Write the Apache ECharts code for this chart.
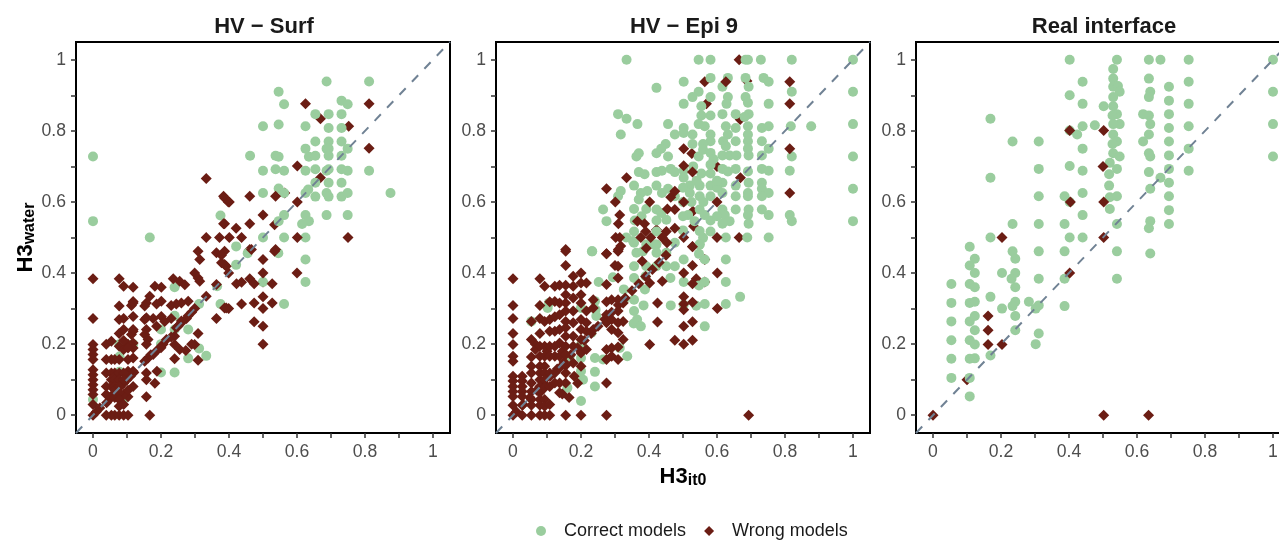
<!DOCTYPE html>
<html>
  <head>
    <title></title>
    <meta charset="UTF-8" />
    <script src="https://cdn.jsdelivr.net/npm/echarts@6/dist/echarts.min.js"></script>
    <style>
      html, body { margin: 0; padding: 0; background: #fff; overflow: hidden; }
    </style>
  </head>
  <body>
    <div id="main"></div>
    <script>
      const panelTitles = ['HV \u2212 Surf', 'HV \u2212 Epi 9', 'Real interface'];
      const labelTicks = [0, 0.2, 0.4, 0.6, 0.8, 1];
      const allTicks = [0, 0.1, 0.2, 0.3, 0.4, 0.5, 0.6, 0.7, 0.8, 0.9, 1];
      const diagonal = [[-0.05, -0.05], [1.05, 1.05]];

      // [x, y]
      const surfCorrect = [
        [.687,.939],[.812,.939],[.546,.91],[.562,.875],[.731,.885],[.749,.875],[.654,.847],[.693,.847],[.731,.847],
        [.5,.813],[.546,.818],[.625,.813],[.693,.808],[.731,.808],[.654,.77],[.693,.77],[.731,.77],[.625,.75],
        [.687,.75],[.693,.75],[.749,.75],[.462,.73],[.537,.73],[.546,.727],[.635,.727],[.654,.73],[.693,.73],[.731,.73],
        [.5,.688],[.537,.692],[.562,.688],[.625,.688],[.654,.692],[.693,.692],[.687,.688],[.731,.692],[.749,.688],[.812,.688],
        [.654,.654],[.633,.635],[.693,.654],[.731,.654],[.546,.638],[.5,.625],[.562,.625],[.625,.625],[.654,.615],[.687,.625],
        [.693,.615],[.731,.615],[.749,.625],[.875,.625],[.562,.563],[.546,.546],[.625,.563],[.635,.546],[.615,.538],[.687,.563],
        [.749,.563],[.5,.5],[.562,.5],[.625,.5],[.421,.475],[.455,.456],[.421,.423],[.545,.456],[.625,.438],[.625,.375],[.562,.313],
        [.24,.36],[.365,.363],[.312,.313],[.375,.313],[.24,.28],[.2,.241],[.24,.241],[.28,.241],[.2,.2],[.312,.188],[.28,.16],
        [.333,.167],[.2,.12],[.24,.12],[.078,.165],[.078,.2],[.078,.122],[.118,.2],[0,.044],[.09,.044],[0,.728],[0,.546],[.167,.5],
        [.375,.562],[.5,.375]
      ];
      const surfWrongUnder = [[.669,.834],[.752,.813],[.669,.668],[.534,.536],[.564,.625],[.5,.375],[.461,.466]];
      const surfWrong = [
        [.625,.876],[.812,.876],[.812,.751],[.601,.701],[.461,.616],[.537,.616],
        [.601,.6],[.387,.611],[.401,.6],[.5,.563],[.461,.539],[.387,.539],[.421,.526],[.401,.5],[.437,.5],[.601,.5],
        [.75,.5],[.537,.466],[.333,.666],[.384,.616],[.398,.6],[.384,.539],[.333,.5],[.372,.5],
        [.387,.461],[.5,.438],[.387,.424],[.5,.4],[.399,.4],[.6,.4],[.422,.37],[.437,.374],[.461,.384],[.474,.37],[.527,.37],
        [.5,.333],[.474,.316],[.437,.313],[.527,.316],[.5,.3],[.387,.302],[.399,.3],[.474,.263],[.5,.25],[.5,.2],[.534,.461],[.466,.466],
        [.309,.461],[.314,.438],[.363,.457],[.378,.45],[.378,.429],[.392,.419],[.299,.4],[.309,.386],[.314,.377],[.236,.384],[.255,.377],
        [.27,.367],[.182,.363],[.201,.36],[.363,.368],[.333,.335],[.299,.3],[.28,.321],[.26,.316],[.245,.313],[.23,.309],[.201,.321],
        [.187,.313],[.167,.335],[.157,.316],[.152,.307],[.363,.272],[.392,.302],[.118,.32],[.113,.309],[.077,.307],
        [.275,.272],[.26,.26],[.245,.246],[.23,.272],[.201,.278],[.211,.264],[.187,.25],[.177,.272],[.157,.274],[.152,.269],
        [.157,.241],[.152,.227],[.162,.213],[.157,.2],[.216,.213],[.206,.2],[.191,.185],[.177,.171],[.162,.161],[.152,.152],[.24,.222],
        [.24,.199],[.255,.185],[.273,.182],[.299,.199],[.309,.23],[.24,.159],[.309,.155],[.188,.124],[.157,.119],[.157,.1],[.182,.09],
        [.157,.052],[.167,0],[.118,.236],[.113,.227],[.077,.23],[.118,.081],[.103,.052],[.09,.058],[.103,.124],[.118,.124],
        [.04,.035],[.05,.05],[.06,.06],[.07,.07],[.08,.08],[.09,.09],[.1,.1],[.11,.11],[.12,.12],
        [.039,0],[.054,0],[.064,0],[.077,0],[.09,0],[.103,0],[.039,.2],[.039,.157],[.039,.119],[.039,.081],[.039,.058],
        [.054,.208],[.054,.157],[.054,.119],[.054,.1],[.054,.081],[.054,.05],[.064,.119],[.064,.11],[.064,.1],[.064,.081],[.064,.072],
        [.064,.05],[.064,.157],[.077,.384],[.077,.269],[.077,.194],[.077,.157],[.077,.119],[.077,.1],[.077,.081],[.077,.063],[.077,.044],
        [.077,.025],[.09,.363],[.09,.272],[.09,.241],[.09,.185],[.09,.119],[.09,.1],[.09,.03],[.118,.36],[.118,.316],[.118,.278],[.118,.241],
        [.118,.203],[.118,.189],[.118,.161],[.103,.157],[.103,.2],[.103,.189],[.09,.21],[.103,.07],
        [0,.384],[0,.272],[0,.199],[0,.185],[0,.171],[0,.157],[0,.128],[0,.114],[0,.1],[0,.086],[0,.072],[0,.058],[0,.03],[0,0],
        [.26,.265],[.28,.28],[.29,.29],[.29,.2],[.01,.01],[.02,.02],[.17,.17],[.2,.19],[.23,.22],[.25,.25]
      ];

      const epiCorrect = [
        [.334,1],[.422,.921],[.309,.847],[.334,.834],[.366,.819],[.456,.819],[.317,.79],[.476,.79],[.449,.763],[.436,.75],[.422,.737],
        [.37,.737],[.363,.728],[.456,.728],[.37,.684],[.387,.678],[.422,.684],[.438,.688],[.464,.693],[.476,.684],[.356,.646],[.422,.646],
        [.395,.631],[.376,.625],[.317,.631],[.309,.616],[.37,.607],[.438,.625],[.456,.637],[.476,.616],[.265,.579],[.356,.58],[.392,.58],
        [.422,.579],[.436,.569],[.378,.56],[.451,.55],[.275,.546],[.358,.548],[.422,.548],[.356,.517],[.422,.517],[.333,.5],[.356,.485],
        [.392,.48],[.422,.48],[.476,.485],[.233,.461],
        [.546,1],[.581,1],[.684,1],[.691,1],[.729,1],[.82,1],[1,1],[.502,.938],[.581,.949],[.632,.949],[.684,.949],[.616,.924],[.737,.949],
        [.752,.938],[.693,.924],[.82,.91],[1,.91],[.546,.91],[.528,.895],[.581,.895],[.632,.895],[.684,.895],[.691,.879],[.502,.876],
        [.554,.869],[.628,.876],[.752,.876],[.616,.847],[.581,.843],[.554,.843],[.655,.847],[.693,.847],[.681,.839],[.546,.819],[.564,.813],
        [.502,.808],[.626,.813],[.655,.808],[.691,.813],[.732,.808],[.752,.813],[.817,.813],[.877,.813],[1,.819],[.528,.79],[.581,.79],
        [.632,.79],[.691,.79],[.502,.794],[.581,.771],[.618,.771],[.655,.771],[.691,.771],[.732,.771],[.528,.763],[.559,.763],[.626,.757],
        [.752,.75],[.691,.75],[.559,.747],[.581,.738],[.616,.731],[.637,.731],[.657,.731],[.693,.731],[.546,.728],[.732,.731],[.82,.728],
        [1,.728],[.581,.705],[.616,.693],[.655,.693],[.632,.686],[.691,.686],[.732,.693],[.752,.688],[.814,.688],[.502,.688],[.554,.68],
        [.581,.68],[.502,.668],[.581,.646],[.616,.654],[.655,.646],[.693,.654],[.732,.654],[.52,.646],[.549,.646],[.5,.64],[.616,.625],
        [.691,.625],[.732,.637],[.752,.625],[1,.637],[.581,.616],[.655,.616],[.691,.616],[.732,.616],[.52,.625],[.549,.616],[.5,.6],
        [.549,.579],[.616,.579],[.655,.579],[.693,.579],[.732,.579],[.623,.563],[.564,.563],[.752,.563],[.814,.563],[.82,.546],[1,.546],
        [.691,.563],[.637,.546],[.616,.539],[.693,.539],[.581,.548],[.515,.563],[.534,.546],[.549,.518],[.581,.517],[.626,.5],[.689,.5],
        [.752,.5],[.559,.499],[.549,.48],[.5,.56],[.5,.52],[.525,.6],[.56,.6],[.6,.64],[.6,.66],[.59,.72],[.6,.56],[.53,.7],[.54,.66],
        [.502,.438],[.547,.454],[.564,.438],[.626,.438],[.502,.375],[.547,.365],[.564,.375],[.626,.375],[.668,.333],[.502,.311],[.539,.308],
        [.564,.313],[.626,.313],[.564,.25],[.549,.481],
        [.232,.461],[.353,.49],[.363,.457],[.382,.461],[.417,.48],[.422,.457],[.451,.457],[.356,.419],[.392,.419],[.422,.419],[.451,.419],
        [.476,.419],[.356,.386],[.39,.391],[.463,.386],[.294,.388],[.252,.375],[.326,.354],[.388,.354],[.356,.325],[.241,.321],[.326,.323],
        [.384,.309],[.464,.309],[.2,.302],[.102,.302],[.243,.297],[.356,.293],[.365,.269],[.355,.258],[.376,.25],[.245,.279],[.231,.232],
        [.314,.189],[.2,.199],[.2,.161],[.241,.161],[.265,.157],[.336,.166],[.2,.124],[.241,.122],[.206,.1],[.241,.081],[.2,.04],[.16,.077],
        [.167,.166],[.106,.316],[.054,.264]
      ];
      const epiWrongUnder = [
        [.665,1],[.564,.938],[.688,.94],[.569,.876],[.668,.832],[.526,.736],[.6,.7],[.669,.668],[.529,.574],[.531,.532],[.665,.5],[.528,.475],
        [.564,.438],[.564,.375],[.539,.384],[.422,.522],[.31,.466]
      ];
      const epiWrong = [
        [.334,.668],[.275,.637],[.301,.6],[.402,.6],[.464,.613],[.476,.63],[.454,.58],[.476,.579],[.314,.563],[.366,.546],[.387,.539],
        [.31,.539],[.476,.526],[.451,.517],[.39,.517],[.302,.5],[.314,.5],[.376,.5],[.405,.5],[.439,.5],[.453,.485],[.317,.476],
        [.155,.466],[.392,.47],
        [.626,.938],[.814,.938],[.814,.876],[.502,.75],[.814,.75],
        [.502,.702],[.528,.684],[.814,.625],[.502,.6],[.6,.6],[.502,.5],[.6,.5],
        [.528,.474],[.528,.421],[.502,.4],[.601,.4],[.528,.37],[.502,.333],[.502,.313],[.528,.318],
        [.502,.297],[.601,.3],[.502,.25],[.528,.263],[.502,.2],[.528,.211],[.693,0],
        [.275,.454],[.3,.421],[.309,.461],[.309,.419],[.309,.386],[.38,.433],[.402,.372],[.425,.316],[.425,.262],[.439,.377],[.476,.211],[.402,.199],
        [.45,.45],[.43,.43],[.41,.41],[.39,.39],[.37,.37],[.35,.35],[.33,.33],[.31,.31],[.29,.29],[.27,.27],[.25,.25],[.23,.23],[.21,.21],[.19,.19],
        [.17,.17],[.15,.15],[.13,.13],[.11,.11],[.09,.09],[.07,.07],[.05,.05],[.03,.03],[.01,.01],
        [.066,.2],[.066,.185],[.1,.18],[.145,.18],[.145,.06],[.165,.05],[.18,.11],[.19,.09]
      ];
      // dense lower-left of the Epi panel, one row per column: x, then its y values
      const epiWrongColumns = [
        [0,.384,.309,.272,.23,.199,.166,.152,.11,.096,.081,.067,.053,.028,0],
        [.027,.11,.096,.081,.067,.053,.028,0],
        [.054,.264,.213,.164,.138,.119,.091,.067,.044,.028,0],
        [.079,.384,.309,.272,.23,.194,.166,.138,.119,.1,.081,.063,.044,.028,0],
        [.093,.363,.264,.194,.166,.138,.119,.1,.077,.044,.025,0],
        [.108,.319,.269,.236,.194,.166,.119,.081,.03,0],
        [.123,.363,.32,.277,.236,.194,.166,.119,.091],
        [.137,.366,.316,.283,.241,.203,.166,.133,.091,.063],
        [.155,.461,.421,.366,.339,.316,.293,.264,.246,.222,.194,.171,.14,.119,.091,0],
        [.177,.391,.363,.33,.293,.26,.222,.194,.147],
        [.2,.4,.372,.339,.316,.269,.241,.213,.175,.138,0],
        [.216,.372,.293,.26,.236,.185],
        [.236,.325,.302,.241],
        [.275,.454,.368,.319,.283,.26,.185,.157,.091,0],
        [.29,.325,.269,.241,.189,.166],
        [.309,.325,.293,.26,.232,.192,.157],
        [.324,.316,.264,.213]
      ];

      const realCorrect = [
        [.402,1],[.44,.938],[.402,.9],[.44,.876],[.169,.834],[.44,.813],[.476,.816],[.402,.801],[.424,.79],[.234,.77],[.311,.77],[.44,.75],
        [.311,.693],[.402,.701],[.44,.688],[.169,.668],[.311,.616],[.387,.616],[.44,.625],[.402,.6],[.44,.563],[.234,.538],[.311,.538],[.387,.538],
        [.169,.5],[.402,.5],[.44,.5],[.108,.474],[.234,.461],[.311,.461],[.387,.461],
        [.541,1],[.635,1],[.669,1],[.752,1],[1,1],[.53,.974],[.53,.947],[.635,.947],[.752,.938],[.53,.924],[.544,.926],[.694,.924],[.549,.91],
        [.639,.91],[1,.91],[.53,.895],[.635,.895],[.694,.885],[.752,.876],[.502,.869],[.53,.869],[.541,.847],[.528,.843],[.618,.847],[.635,.843],
        [.694,.847],[.549,.819],[.53,.819],[.639,.819],[.694,.808],[.752,.813],[1,.819],[.53,.79],[.635,.79],[.541,.77],[.528,.763],[.618,.77],
        [.694,.77],[.53,.737],[.549,.728],[.635,.737],[.639,.728],[.694,.731],[.752,.75],[1,.728],[.52,.71],[.541,.693],[.518,.678],[.635,.684],
        [.694,.693],[.752,.688],[.669,.668],[.694,.654],[.518,.646],[.639,.637],[.52,.613],[.541,.616],[.694,.616],[.52,.58],[.694,.577],[.639,.546],
        [.635,.526],[.694,.538],[.541,.538],[.541,.461],[.639,.455],
        [.123,.44],[.108,.421],[.123,.4],[.054,.369],[.108,.369],[.123,.36],[.054,.316],[.108,.316],[.123,.319],[.054,.264],[.108,.264],[.123,.279],
        [.123,.239],[.054,.211],[.108,.211],[.123,.199],[.054,.159],[.108,.159],[.123,.16],[.054,.105],[.108,.105],[.108,.053],[.169,.333],[.169,.168],
        [.242,.44],[.203,.4],[.242,.4],[.231,.384],[.242,.36],[.242,.319],[.234,.307],[.203,.3],[.242,.279],[.242,.239],[.282,.319],[.302,.3],[.311,.309],
        [.311,.384],[.311,.23],[.302,.2],[.387,.384],[.387,.307],[.541,.384]
      ];
      const realWrongUnder = [[.1,.1]];
      const realWrong = [
        [.402,.801],[.404,.6],[.203,.5],[.502,.801],[.5,.7],[.502,.6],[.502,.5],[0,0],[.162,.279],[.162,.239],[.162,.199],[.203,.199],[.402,.4],[.502,0],[.634,0]
      ];

      const correctData = [surfCorrect, epiCorrect, realCorrect];
      const wrongUnderData = [surfWrongUnder, epiWrongUnder, realWrongUnder];
      const wrongData = [
        surfWrong,
        epiWrong.concat(epiWrongColumns.flatMap(([x, ...ys]) => ys.map((y) => [x, y]))),
        realWrong,
      ];
      const gridLefts = [76, 496, 916];

      const main = document.getElementById('main');
      main.style.width = '1279px';
      main.style.height = '540px';
      const myChart = echarts.init(main);

      const fontFamily = 'Liberation Sans';
      const axisBase = {
        type: 'value',
        min: -0.05,
        max: 1.05,
        splitLine: { show: false },
        axisLine: { show: false, onZero: false },
        axisTick: {
          show: true,
          length: 5,
          customValues: allTicks,
          lineStyle: { color: '#333', width: 1.5 },
        },
        axisLabel: {
          customValues: labelTicks,
          color: '#4d4d4d',
          fontFamily,
          fontSize: 17.6,
          margin: 10,
          formatter: (v) => `${v}`,
        },
      };
      const nameRich = {
        main: { fontFamily, fontWeight: 'bold', fontSize: 22, color: '#000' },
        sub: { fontFamily, fontWeight: 'bold', fontSize: 16, color: '#000', verticalAlign: 'bottom', padding: [8, 0, 0, 0] },
      };
      const wrongStyle = { color: '#6B1D14', opacity: 1 };

      const option = {
        animation: false,
        title: panelTitles.map((text, i) => ({
          text,
          left: gridLefts[i] + 183,
          top: 11,
          textAlign: 'center',
          textStyle: { fontFamily, fontWeight: 'bold', fontSize: 22, color: '#1a1a1a' },
        })),
        legend: {
          left: 531,
          top: 517,
          itemWidth: 10,
          itemHeight: 10,
          itemGap: 18,
          textStyle: { fontFamily, fontSize: 18, color: '#1a1a1a', padding: [0, 0, 0, 13] },
          data: ['Correct models', 'Wrong models'],
        },
        grid: gridLefts.map((left) => ({
          left,
          top: 42,
          width: 374,
          height: 391,
          outerBoundsMode: 'none',
          show: true,
          borderColor: '#000',
          borderWidth: 2,
          backgroundColor: '#fff',
        })),
        xAxis: gridLefts.map((_, i) => ({
          ...axisBase,
          gridIndex: i,
          name: i === 1 ? '{main|H3}{sub|it0}' : '',
          nameLocation: 'middle',
          nameGap: 29,
          nameTextStyle: { rich: nameRich },
        })),
        yAxis: gridLefts.map((_, i) => ({
          ...axisBase,
          gridIndex: i,
          name: i === 0 ? '{main|H3}{sub|water}' : '',
          nameLocation: 'middle',
          nameGap: 38,
          nameRotate: 90,
          nameTextStyle: { rich: nameRich },
        })),
        series: gridLefts.flatMap((_, i) => [
          {
            name: 'Correct models',
            type: 'scatter',
            xAxisIndex: i,
            yAxisIndex: i,
            symbol: 'circle',
            symbolSize: 10,
            itemStyle: { color: '#9ACD9E', opacity: 1 },
            data: correctData[i],
            z: 3,
          },
          {
            name: 'Wrong models',
            type: 'scatter',
            xAxisIndex: i,
            yAxisIndex: i,
            symbol: 'diamond',
            symbolSize: 11,
            itemStyle: wrongStyle,
            data: wrongUnderData[i],
            z: 2,
          },
          {
            name: 'Wrong models',
            type: 'scatter',
            xAxisIndex: i,
            yAxisIndex: i,
            symbol: 'diamond',
            symbolSize: 11,
            itemStyle: wrongStyle,
            data: wrongData[i],
            z: 4,
          },
          {
            type: 'line',
            xAxisIndex: i,
            yAxisIndex: i,
            data: diagonal,
            symbol: 'none',
            silent: true,
            lineStyle: { color: '#708294', width: 2, type: [9, 9] },
            z: 5,
          },
        ]),
      };
      myChart.setOption(option);
    </script>
  </body>
</html>
